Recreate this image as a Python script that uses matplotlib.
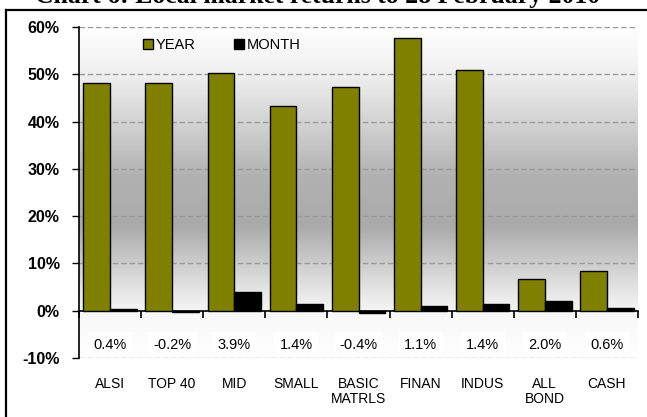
import numpy as np
import matplotlib
matplotlib.use('Agg')
import matplotlib.pyplot as plt
from matplotlib.colors import LinearSegmentedColormap
from matplotlib.ticker import PercentFormatter

# data (percent)
categories = ['ALSI', 'TOP 40', 'MID', 'SMALL', 'BASIC\nMATRLS', 'FINAN', 'INDUS', 'ALL\nBOND', 'CASH']
year = [48.1, 48.1, 50.3, 43.2, 47.4, 57.7, 51.0, 6.8, 8.4]
month = [0.4, -0.2, 3.9, 1.4, -0.4, 1.1, 1.4, 2.0, 0.6]
yticks = [-10, 0, 10, 20, 30, 40, 50, 60]

W, H = 647, 417
fig = plt.figure(figsize=(W / 100, H / 100), dpi=100)
plt.rcParams['font.family'] = ['Liberation Sans', 'DejaVu Sans']
plt.rcParams['axes.unicode_minus'] = False

# outer frame (only top and left are visible in the reference)
fig.add_artist(plt.Line2D([6 / W, 6 / W], [0, 1 - 10 / H], color='black', lw=1.6))
fig.add_artist(plt.Line2D([6 / W, 1], [1 - 10 / H, 1 - 10 / H], color='black', lw=1.6))

# title, clipped by the top edge as in the reference
fig.text(318 / W, 1 - 2.5 / H, 'Chart 6: Local market returns to 28 February 2010',
         ha='center', va='baseline', fontsize=18.5, fontweight='bold',
         family='Liberation Serif')

ax = fig.add_axes([79 / W, 59 / H, 559 / W, 331 / H])
x = np.arange(len(categories))
ymin, ymax = yticks[0], yticks[-1]

# vertical gray gradient behind the bars
cmap = LinearSegmentedColormap.from_list('bg', [
    (0.0, '#ffffff'), (0.13, '#f8f8f8'), (0.2, '#e6e6e6'), (0.3, '#c8c8c8'),
    (0.4, '#aaaaaa'), (0.55, '#b2b2b2'), (0.7, '#d0d0d0'), (0.85, '#eeeeee'),
    (1.0, '#ffffff')])
grad = np.linspace(0, 1, 256).reshape(-1, 1)
ax.imshow(grad, cmap=cmap, aspect='auto', origin='lower',
          extent=(-0.5, len(categories) - 0.5, ymin, ymax), zorder=0)

for t in yticks:
    if t != 0:
        ax.axhline(t, color='#9a9a9a', lw=1, ls=(0, (4, 2)), zorder=1)

w = 0.43
ax.bar(x - w / 2, year, w, color='#808000', edgecolor='black', lw=1, label='YEAR', zorder=3)
ax.bar(x + w / 2, month, w, color='black', edgecolor='black', lw=1, label='MONTH', zorder=3)

for xi, m in zip(x, month):
    ax.text(xi, -7.2, f'{m:.1f}%', ha='center', va='center', fontsize=10.5,
            bbox=dict(facecolor='white', edgecolor='none', pad=4), zorder=4)

ax.set_xlim(-0.5, len(categories) - 0.5)
ax.set_ylim(ymin, ymax)
ax.set_yticks(yticks)
ax.yaxis.set_major_formatter(PercentFormatter(decimals=0))
for lab in ax.get_yticklabels():
    lab.set_fontweight('bold')
ax.tick_params(axis='y', direction='out', length=5, width=1, labelsize=11.5, pad=9)

ax.spines['bottom'].set_position(('data', 0))
ax.spines['top'].set_visible(False)
ax.spines['right'].set_visible(False)
ax.spines['left'].set_linewidth(1.2)
ax.spines['bottom'].set_linewidth(1.2)
ax.set_xticks(x)
ax.set_xticklabels(categories, fontsize=10, linespacing=1.1)
ax.set_xticks(np.arange(len(categories) + 1) - 0.5, minor=True)
ax.tick_params(axis='x', which='major', length=0, pad=48)
ax.tick_params(axis='x', which='minor', direction='out', length=5, width=1.2)

ax.legend(loc='center', bbox_to_anchor=(0.255, 0.946), ncol=2, frameon=False,
          fontsize=10.5, handlelength=0.7, handleheight=0.7, handletextpad=0.2,
          columnspacing=2.6)

fig.savefig('out.png', dpi=100)
